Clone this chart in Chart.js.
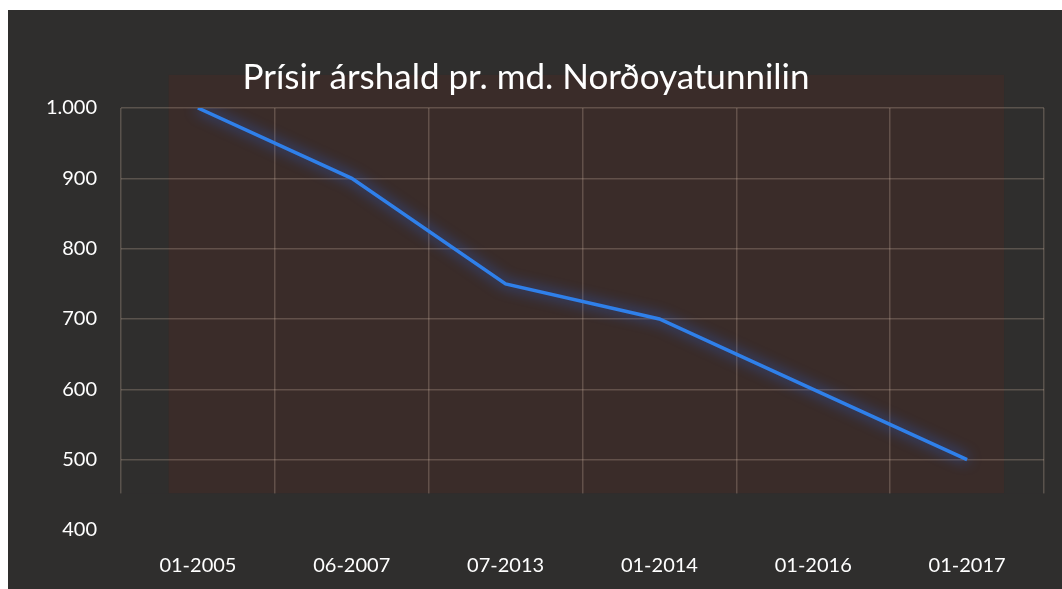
<!DOCTYPE html>
<html>
<head>
<meta charset="utf-8">
<script src="https://cdn.jsdelivr.net/npm/chart.js@4.4.0/dist/chart.umd.min.js"></script>
<style>
  html, body { margin: 0; padding: 0; background: #ffffff; }
  #wrap {
    position: absolute; left: 8px; top: 10px;
    width: 1054px; height: 579px;
    background: #2f2e2d;
  }
  #chart { display: block; }
</style>
</head>
<body>
<div id="wrap"><canvas id="chart" width="1054" height="579"></canvas></div>
<script>
// Chart data
const periods = ['01-2005', '06-2007', '07-2013', '01-2014', '01-2016', '01-2017'];
const prices = [1000, 900, 750, 700, 600, 500];
const yTicks = [400, 500, 600, 700, 800, 900, 1000];

const chartTitle = 'Prísir árshald pr. md. Norðoyatunnilin';
const bgColor = '#2f2e2d';
const fontFamily = 'Lato, "Open Sans", sans-serif';

// thousands with a dot, like "1.000"
function formatNumber(v) {
  return String(v).replace(/\B(?=(\d{3})+(?!\d))/g, '.');
}

// reddish plot panel behind the grid
const plotPanel = {
  id: 'plotPanel',
  beforeDraw(chart) {
    const { ctx, scales: { x, y } } = chart;
    const left = x.getPixelForValue(-0.19);
    const right = x.getPixelForValue(5.24);
    const top = y.getPixelForValue(1047);
    const bottom = y.getPixelForValue(452);
    ctx.save();
    ctx.fillStyle = '#3a2c29';
    ctx.fillRect(left, top, right - left, bottom - top);
    ctx.restore();
  },
  // hide the grid below the panel
  beforeDatasetsDraw(chart) {
    const { ctx, chartArea, scales: { y } } = chart;
    const top = y.getPixelForValue(452);
    ctx.save();
    ctx.fillStyle = bgColor;
    ctx.fillRect(chartArea.left - 2, top, chartArea.right - chartArea.left + 4, chartArea.bottom - top + 2);
    ctx.restore();
  }
};

// blue glow round the line
const lineGlow = {
  id: 'lineGlow',
  beforeDatasetDraw(chart) {
    const ctx = chart.ctx;
    ctx.save();
    ctx.shadowColor = 'rgba(40, 110, 255, 0.85)';
    ctx.shadowBlur = 14;
  },
  afterDatasetDraw(chart) {
    chart.ctx.restore();
  }
};

const gridColor = 'rgba(205, 180, 160, 0.28)';

new Chart(document.getElementById('chart'), {
  type: 'line',
  data: {
    labels: periods,
    datasets: [{
      data: prices,
      borderColor: '#2f80ea',
      borderWidth: 3.5,
      pointRadius: 0,
      tension: 0,
      fill: false
    }]
  },
  options: {
    responsive: false,
    animation: false,
    layout: { padding: { left: 0, right: 18, top: 0, bottom: 11 } },
    plugins: {
      legend: { display: false },
      tooltip: { enabled: false },
      title: {
        display: true,
        text: chartTitle,
        color: '#ffffff',
        font: { family: fontFamily, size: 35, weight: 'normal' },
        padding: { top: 47, bottom: 9 }
      }
    },
    scales: {
      x: {
        offset: true,
        afterFit(scale) { scale.height = 48; },
        border: { display: false },
        grid: { offset: true, color: gridColor, lineWidth: 1.5, drawTicks: false },
        ticks: {
          color: '#ffffff',
          padding: 24,
          maxRotation: 0,
          font: { family: fontFamily, size: 20 }
        }
      },
      y: {
        min: 400,
        max: 1000,
        afterFit(scale) { scale.width = 113; },
        afterBuildTicks(scale) { scale.ticks = yTicks.map(v => ({ value: v })); },
        border: { display: false },
        grid: {
          color: ctx => (ctx.tick && ctx.tick.value === 400 ? 'rgba(0,0,0,0)' : gridColor),
          lineWidth: 1.5,
          drawTicks: false
        },
        ticks: {
          color: '#ffffff',
          padding: 24,
          callback: v => formatNumber(v),
          font: { family: fontFamily, size: 20 }
        }
      }
    }
  },
  plugins: [plotPanel, lineGlow]
});
</script>
</body>
</html>
